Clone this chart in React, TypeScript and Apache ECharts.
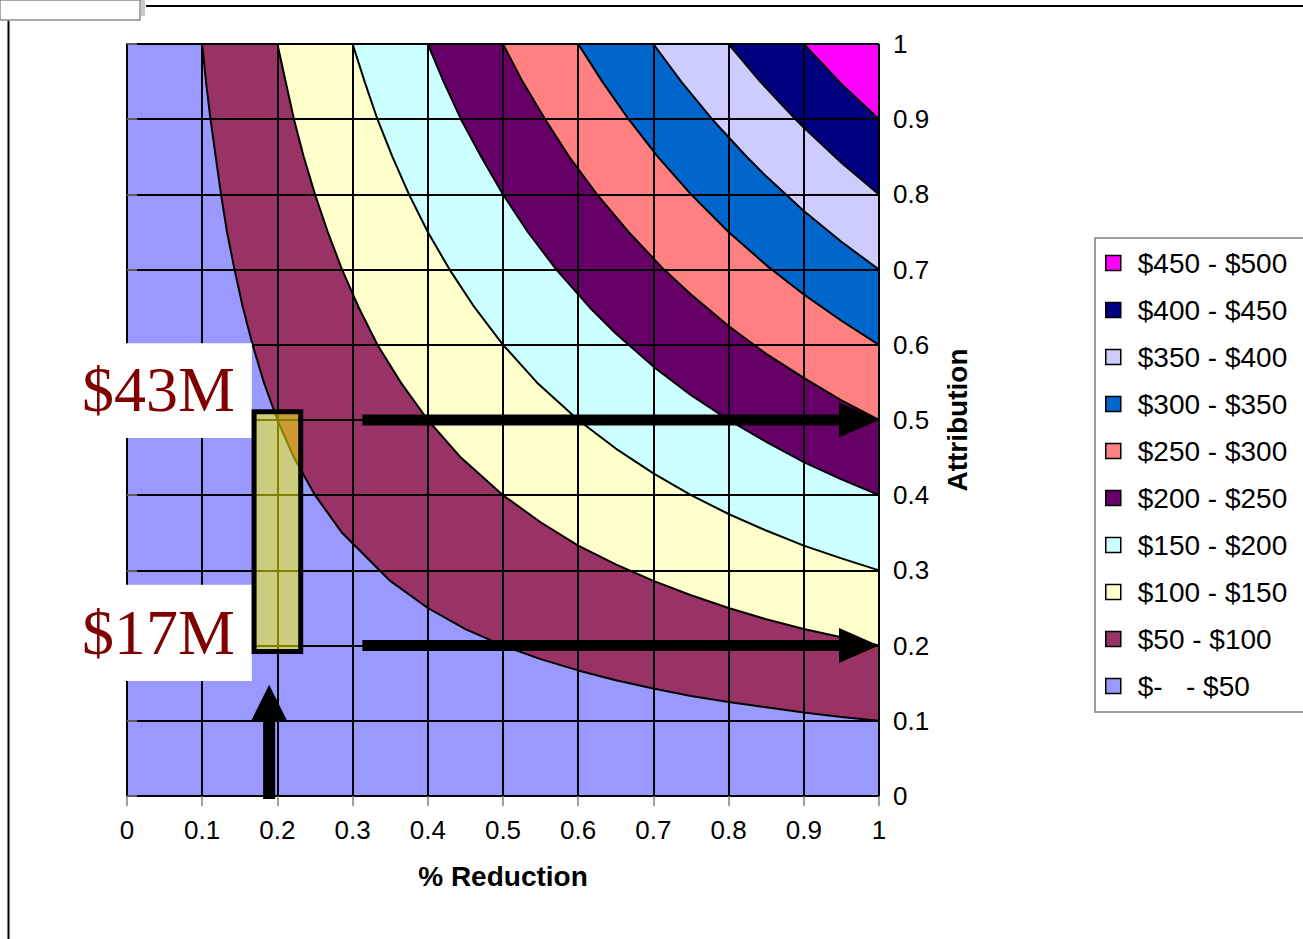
import React, { useEffect, useRef } from "react";
import * as echarts from "echarts";

// ---- data: boundary curves between value bands ([%Reduction, Attribution]) ----
const boundary50 = [[0.1, 1], [0.105, 0.95], [0.111, 0.9], [0.118, 0.85], [0.125, 0.8], [0.133, 0.75], [0.143, 0.7], [0.154, 0.65], [0.167, 0.6], [0.182, 0.55], [0.2, 0.5], [0.222, 0.45], [0.25, 0.4], [0.286, 0.35], [0.35, 0.286], [0.4, 0.25], [0.45, 0.222], [0.5, 0.2], [0.55, 0.182], [0.6, 0.167], [0.65, 0.154], [0.7, 0.143], [0.75, 0.133], [0.8, 0.125], [0.85, 0.118], [0.9, 0.111], [0.95, 0.105], [1, 0.1]];
const boundary100 = [[0.2, 1], [0.211, 0.95], [0.222, 0.9], [0.235, 0.85], [0.25, 0.8], [0.267, 0.75], [0.286, 0.7], [0.308, 0.65], [0.333, 0.6], [0.364, 0.55], [0.4, 0.5], [0.444, 0.45], [0.5, 0.4], [0.55, 0.364], [0.6, 0.333], [0.65, 0.308], [0.7, 0.286], [0.75, 0.267], [0.8, 0.25], [0.85, 0.235], [0.9, 0.222], [0.95, 0.211], [1, 0.2]];
const boundary150 = [[0.3, 1], [0.316, 0.95], [0.333, 0.9], [0.353, 0.85], [0.375, 0.8], [0.4, 0.75], [0.429, 0.7], [0.462, 0.65], [0.5, 0.6], [0.545, 0.55], [0.6, 0.5], [0.65, 0.462], [0.7, 0.429], [0.75, 0.4], [0.8, 0.375], [0.85, 0.353], [0.9, 0.333], [0.95, 0.316], [1, 0.3]];
const boundary200 = [[0.4, 1], [0.421, 0.95], [0.444, 0.9], [0.471, 0.85], [0.5, 0.8], [0.533, 0.75], [0.571, 0.7], [0.615, 0.65], [0.65, 0.615], [0.7, 0.571], [0.75, 0.533], [0.8, 0.5], [0.85, 0.471], [0.9, 0.444], [0.95, 0.421], [1, 0.4]];
const boundary250 = [[0.5, 1], [0.526, 0.95], [0.556, 0.9], [0.588, 0.85], [0.625, 0.8], [0.667, 0.75], [0.714, 0.7], [0.75, 0.667], [0.8, 0.625], [0.85, 0.588], [0.9, 0.556], [0.95, 0.526], [1, 0.5]];
const boundary300 = [[0.6, 1], [0.632, 0.95], [0.667, 0.9], [0.706, 0.85], [0.75, 0.8], [0.8, 0.75], [0.85, 0.706], [0.9, 0.667], [0.95, 0.632], [1, 0.6]];
const boundary350 = [[0.7, 1], [0.737, 0.95], [0.778, 0.9], [0.824, 0.85], [0.85, 0.824], [0.9, 0.778], [0.95, 0.737], [1, 0.7]];
const boundary400 = [[0.8, 1], [0.842, 0.95], [0.889, 0.9], [0.9, 0.889], [0.95, 0.842], [1, 0.8]];
const boundary450 = [[0.9, 1], [0.947, 0.95], [0.95, 0.947], [1, 0.9]];

const boundaries = [boundary50, boundary100, boundary150, boundary200, boundary250, boundary300, boundary350, boundary400, boundary450];
const bandNames = ["$50 - $100", "$100 - $150", "$150 - $200", "$200 - $250", "$250 - $300", "$300 - $350", "$350 - $400", "$400 - $450", "$450 - $500"];
const bandColors = ["#993366", "#FFFFCC", "#CCFFFF", "#660066", "#FF8080", "#0066CC", "#CCCCFF", "#000080", "#FF00FF"];
const baseBandName = "$-   - $50";
const baseBandColor = "#9999FF";

const xAxisTitle = "% Reduction";
const yAxisTitle = "Attribution";
const annotationHigh = "$43M";
const annotationLow = "$17M";
const arrowLevels = [0.5, 0.2];

const SANS = '"Liberation Sans", Arial, Helvetica, sans-serif';
const SERIF = '"Liberation Serif", "Times New Roman", serif';

export default function App() {
  const ref = useRef<HTMLDivElement>(null);

  useEffect(() => {
    if (!ref.current) return;
    const chart = echarts.init(ref.current, null, { renderer: "svg" });

    const series: any[] = boundaries.map((pts, i) => ({
      type: "line",
      name: bandNames[i],
      data: pts,
      symbol: "none",
      showSymbol: false,
      clip: true,
      z: 2 + i * 0.01,
      lineStyle: { color: "#000", width: 2 },
      itemStyle: { color: bandColors[i] },
      areaStyle: { color: bandColors[i], opacity: 1, origin: "end" },
      emphasis: { disabled: true },
      silent: true,
    }));
    series.push({
      type: "line",
      name: baseBandName,
      data: [],
      symbol: "none",
      itemStyle: { color: baseBandColor },
      lineStyle: { color: "#000" },
    });

    const legendNames = [...bandNames].reverse().concat([baseBandName]);
    const legendColors = [...bandColors].reverse().concat([baseBandColor]);

    const option: any = {
      animation: false,
      backgroundColor: "#ffffff",
      textStyle: { fontFamily: SANS },
      grid: {
        left: 127,
        top: 44,
        width: 752,
        height: 752,
        show: true,
        backgroundColor: baseBandColor,
        borderWidth: 0,
      },
      xAxis: {
        type: "value",
        min: 0,
        max: 1,
        interval: 0.1,
        position: "bottom",
        z: 10,
        axisLine: { show: true, lineStyle: { color: "#000", width: 2 } },
        axisTick: { show: true, length: 10, lineStyle: { color: "#808080", width: 1.5 } },
        axisLabel: { fontSize: 26, color: "#000", margin: 21, fontFamily: SANS },
        splitLine: { show: true, lineStyle: { color: "#000", width: 2 } },
        name: xAxisTitle,
        nameLocation: "middle",
        nameGap: 66,
        nameTextStyle: { fontSize: 28, fontWeight: "bold", color: "#000", fontFamily: SANS },
      },
      yAxis: {
        type: "value",
        min: 0,
        max: 1,
        interval: 0.1,
        position: "right",
        z: 10,
        axisLine: { show: true, lineStyle: { color: "#000", width: 2 } },
        axisTick: { show: true, length: 10, lineStyle: { color: "#808080", width: 1.5 } },
        axisLabel: { fontSize: 26, color: "#000", margin: 14, fontFamily: SANS },
        splitLine: { show: true, lineStyle: { color: "#000", width: 2 } },
        name: yAxisTitle,
        nameLocation: "middle",
        nameRotate: 90,
        nameGap: 64,
        nameTextStyle: { fontSize: 28, fontWeight: "bold", color: "#000", fontFamily: SANS },
      },
      legend: {
        orient: "vertical",
        left: 1095,
        top: 238,
        selectedMode: false,
        icon: "rect",
        itemWidth: 15,
        itemHeight: 15,
        itemGap: 19,
        itemStyle: { borderColor: "#000", borderWidth: 1.5 },
        textStyle: { fontSize: 28, color: "#000", fontFamily: SANS, padding: [0, 0, 0, 12] },
        borderColor: "#808080",
        borderWidth: 1.5,
        padding: [11, 40, 12, 10],
        data: legendNames.map((n, i) => ({ name: n, itemStyle: { color: legendColors[i] } })),
      },
      series,
    };
    chart.setOption(option);

    const P = (x: number, y: number) => chart.convertToPixel({ xAxisIndex: 0, yAxisIndex: 0 }, [x, y]) as number[];

    const hArrow = (yv: number, x0: number, x1: number) => {
      const a = P(x0, yv);
      const b = P(x1, yv);
      const h = 5.5, L = 40, W = 17.5;
      return {
        type: "polygon",
        z: 100,
        shape: {
          points: [
            [a[0], a[1] - h], [b[0] - L, a[1] - h], [b[0] - L, a[1] - W], [b[0], a[1]],
            [b[0] - L, a[1] + W], [b[0] - L, a[1] + h], [a[0], a[1] + h],
          ],
        },
        style: { fill: "#000" },
      };
    };

    const vA = P(0.189, 0);
    const vB = P(0.189, 0.148);
    const vh = 6, vL = 36, vW = 18;
    const vArrow = {
      type: "polygon",
      z: 100,
      shape: {
        points: [
          [vA[0] - vh, vA[1] + 3], [vA[0] - vh, vB[1] + vL], [vA[0] - vW, vB[1] + vL], [vA[0], vB[1]],
          [vA[0] + vW, vB[1] + vL], [vA[0] + vh, vB[1] + vL], [vA[0] + vh, vA[1] + 3],
        ],
      },
      style: { fill: "#000" },
    };

    const boxTL = P(0.169, 0.511);
    const boxBR = P(0.231, 0.192);

    const wb1a = P(-0.073, 0.602);
    const wb1b = P(0.166, 0.476);
    const wb2a = P(-0.073, 0.281);
    const wb2b = P(0.166, 0.153);
    const t1 = P(-0.06, 0.541);
    const t2 = P(-0.06, 0.217);

    const graphic: any[] = [
      // sheet frame remnants
      { type: "rect", z: 100, shape: { x: 0, y: 0, width: 140, height: 20 }, style: { fill: "#fff", stroke: "#8c8c8c", lineWidth: 1.5 } },
      { type: "rect", z: 100, shape: { x: 141, y: 0, width: 4, height: 16 }, style: { fill: "#c8c8c8" } },
      { type: "line", z: 100, shape: { x1: 146, y1: 6, x2: 1303, y2: 6 }, style: { stroke: "#000", lineWidth: 2 } },
      { type: "line", z: 100, shape: { x1: 8.5, y1: 21, x2: 8.5, y2: 939 }, style: { stroke: "#000", lineWidth: 2 } },
      // white label boxes
      { type: "rect", z: 100, shape: { x: wb1a[0], y: wb1a[1], width: wb1b[0] - wb1a[0], height: wb1b[1] - wb1a[1] }, style: { fill: "#fff" } },
      { type: "rect", z: 100, shape: { x: wb2a[0], y: wb2a[1], width: wb2b[0] - wb2a[0], height: wb2b[1] - wb2a[1] }, style: { fill: "#fff" } },
      { type: "text", z: 101, x: t1[0], y: t1[1], style: { text: annotationHigh, fill: "#800000", font: `64px ${SERIF}`, verticalAlign: "middle", align: "left" } },
      { type: "text", z: 101, x: t2[0], y: t2[1], style: { text: annotationLow, fill: "#800000", font: `64px ${SERIF}`, verticalAlign: "middle", align: "left" } },
      // highlight box
      {
        type: "rect",
        z: 100,
        shape: { x: boxTL[0], y: boxTL[1], width: boxBR[0] - boxTL[0], height: boxBR[1] - boxTL[1] },
        style: { fill: "rgba(255,255,0,0.5)", stroke: "#000", lineWidth: 5 },
      },
      hArrow(arrowLevels[0], 0.313, 1),
      hArrow(arrowLevels[1], 0.313, 1),
      vArrow,
    ];
    chart.setOption({ graphic });

    return () => chart.dispose();
  }, []);

  return (
    <div
      ref={ref}
      style={{ position: "absolute", left: 0, top: 0, width: 1303, height: 939, background: "#fff" }}
    />
  );
}
